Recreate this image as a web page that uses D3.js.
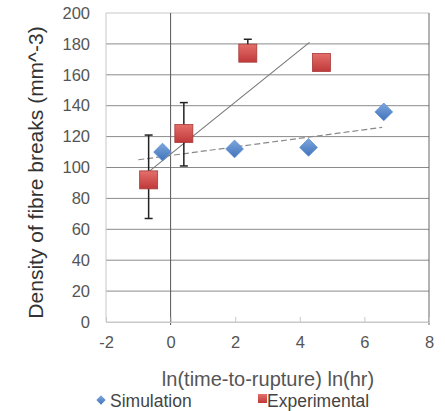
<!DOCTYPE html>
<html>
<head>
<meta charset="utf-8">
<script src="https://cdn.jsdelivr.net/npm/d3@7"></script>
<style>
  body { margin: 0; background: #fff; }
  text { font-family: "Liberation Sans", Arial, sans-serif; }
</style>
</head>
<body>
<svg id="chart" width="445" height="411"></svg>
<script>
// series values
const simX = [-0.25, 1.98, 4.27, 6.6];
const simY = [110, 112, 113, 136];
const expX = [-0.68, 0.41, 2.39, 4.67];
const expY = [92, 122, 174, 168];
const expErrUp = [29, 20, 9, 0];
const expErrDown = [25, 21, 0, 0];
// trendline end points as drawn in the picture
const simTrendX = [-1, 6.55];
const simTrendY = [105, 126];
const expTrendX = [-0.75, 4.3];
const expTrendY = [96, 181];
const xTicks = [-2, 0, 2, 4, 6, 8];
const yTicks = [0, 20, 40, 60, 80, 100, 120, 140, 160, 180, 200];
const legendLabels = ["Simulation", "Experimental"];

const svg = d3.select("#chart");
const margin = {left: 106, right: 16, top: 13, bottom: 89};
const W = 445, H = 411;

const x = d3.scaleLinear().domain([-2, 8]).range([margin.left, W - margin.right]);
const y = d3.scaleLinear().domain([0, 200]).range([H - margin.bottom, margin.top]);

const defs = svg.append("defs");
const gBlue = defs.append("linearGradient").attr("id", "gBlue").attr("x1", 0).attr("y1", 0).attr("x2", 0).attr("y2", 1);
gBlue.append("stop").attr("offset", 0).attr("stop-color", "#7ea6dc");
gBlue.append("stop").attr("offset", 1).attr("stop-color", "#3f73bb");
const gRed = defs.append("linearGradient").attr("id", "gRed").attr("x1", 0).attr("y1", 0).attr("x2", 0).attr("y2", 1);
gRed.append("stop").attr("offset", 0).attr("stop-color", "#e46f6b");
gRed.append("stop").attr("offset", 1).attr("stop-color", "#c0393a");

// gridlines
svg.append("g")
  .selectAll("line")
  .data(yTicks)
  .join("line")
  .attr("x1", x(-2)).attr("x2", x(8))
  .attr("y1", d => y(d)).attr("y2", d => y(d))
  .attr("stroke", d => d === 0 || d === 200 ? "#c8c8c8" : "#8a8a8a")
  .attr("stroke-width", 1);

// plot borders
svg.append("line").attr("x1", x(-2)).attr("x2", x(-2)).attr("y1", y(0)).attr("y2", y(200))
  .attr("stroke", "#c8c8c8");
svg.append("line").attr("x1", x(8)).attr("x2", x(8)).attr("y1", y(0) + 3).attr("y2", y(200))
  .attr("stroke", "#666");
// vertical axis crossing at 0
svg.append("line").attr("x1", x(0)).attr("x2", x(0)).attr("y1", y(0) + 3).attr("y2", y(200))
  .attr("stroke", "#555");

// x axis
const xAxis = svg.append("g")
  .attr("transform", `translate(0,${y(0)})`)
  .call(d3.axisBottom(x).tickValues(xTicks).tickSize(-5).tickPadding(14).tickFormat(d3.format("d")));
xAxis.select(".domain").attr("stroke", "#c8c8c8");
xAxis.selectAll(".tick line").attr("stroke", "#c8c8c8");
xAxis.selectAll("text").attr("fill", "#555").attr("font-size", 16.5)
  .text(d => d < 0 ? "-" + Math.abs(d) : d);

// y axis labels
const yAxis = svg.append("g")
  .attr("transform", `translate(${x(-2)},0)`)
  .call(d3.axisLeft(y).tickValues(yTicks).tickSize(0).tickPadding(16));
yAxis.select(".domain").remove();
yAxis.selectAll("text").attr("fill", "#555").attr("font-size", 16.5);

// trendlines
const line = d3.line().x(d => x(d[0])).y(d => y(d[1]));
svg.append("path")
  .datum(simTrendX.map((v, i) => [v, simTrendY[i]]))
  .attr("d", line)
  .attr("fill", "none").attr("stroke", "#888").attr("stroke-width", 1.2)
  .attr("stroke-dasharray", "6,3");
svg.append("path")
  .datum(expTrendX.map((v, i) => [v, expTrendY[i]]))
  .attr("d", line)
  .attr("fill", "none").attr("stroke", "#777").attr("stroke-width", 1.1);

// error bars
const errData = expX.map((v, i) => ({x: v, y: expY[i], up: expErrUp[i], down: expErrDown[i]}))
  .filter(d => d.up > 0 || d.down > 0);
const eb = svg.append("g").selectAll("g").data(errData).join("g");
eb.append("line")
  .attr("x1", d => x(d.x)).attr("x2", d => x(d.x))
  .attr("y1", d => y(d.y + d.up)).attr("y2", d => y(d.y - d.down))
  .attr("stroke", "#222").attr("stroke-width", 1.5);
eb.filter(d => d.up > 0).append("line")
  .attr("x1", d => x(d.x) - 4).attr("x2", d => x(d.x) + 4)
  .attr("y1", d => y(d.y + d.up)).attr("y2", d => y(d.y + d.up))
  .attr("stroke", "#222").attr("stroke-width", 1.5);
eb.filter(d => d.down > 0).append("line")
  .attr("x1", d => x(d.x) - 4).attr("x2", d => x(d.x) + 4)
  .attr("y1", d => y(d.y - d.down)).attr("y2", d => y(d.y - d.down))
  .attr("stroke", "#222").attr("stroke-width", 1.5);

// markers
const diamond = d3.symbol().type(d3.symbolDiamond2).size(200);
svg.append("g").selectAll("path")
  .data(simX.map((v, i) => [v, simY[i]]))
  .join("path")
  .attr("d", diamond)
  .attr("transform", d => `translate(${x(d[0])},${y(d[1])})`)
  .attr("fill", "url(#gBlue)").attr("stroke", "#5d8ed0").attr("stroke-width", 0.8);

svg.append("g").selectAll("rect")
  .data(expX.map((v, i) => [v, expY[i]]))
  .join("rect")
  .attr("x", d => x(d[0]) - 9).attr("y", d => y(d[1]) - 9)
  .attr("width", 18).attr("height", 18)
  .attr("fill", "url(#gRed)").attr("stroke", "#a63a38").attr("stroke-width", 0.8);

// axis titles
svg.append("text")
  .attr("transform", `translate(43,${(y(0) + y(200)) / 2 + 5}) rotate(-90)`)
  .attr("text-anchor", "middle")
  .attr("font-size", 21).attr("fill", "#333")
  .text("Density of fibre breaks (mm^-3)");
svg.append("text")
  .attr("x", 268).attr("y", 386)
  .attr("text-anchor", "middle")
  .attr("font-size", 20).attr("fill", "#555")
  .text("ln(time-to-rupture) ln(hr)");

// legend
const legend = svg.append("g").attr("transform", "translate(0,407)");
legend.append("path")
  .attr("d", d3.symbol().type(d3.symbolDiamond2).size(55))
  .attr("transform", "translate(101,-7)")
  .attr("fill", "url(#gBlue)");
legend.append("rect")
  .attr("x", 258).attr("y", -13).attr("width", 9).attr("height", 9)
  .attr("fill", "url(#gRed)");
legend.selectAll("text")
  .data(legendLabels)
  .join("text")
  .attr("x", (d, i) => i === 0 ? 110 : 267)
  .attr("y", 0)
  .attr("font-size", 17.5).attr("fill", "#444")
  .text(d => d);
</script>
</body>
</html>
